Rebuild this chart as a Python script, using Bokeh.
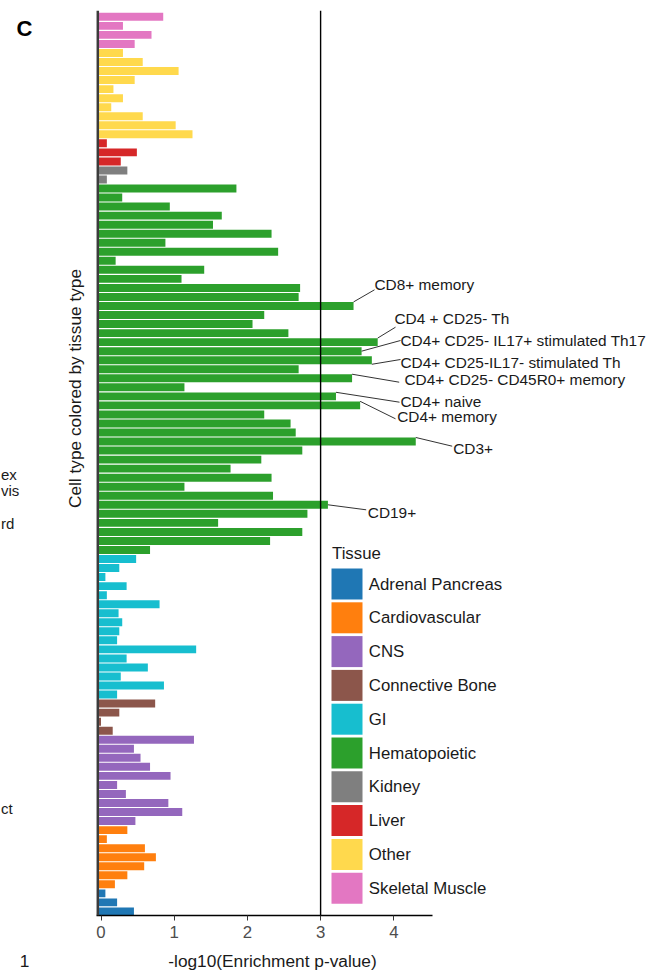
import numpy as np
from bokeh.plotting import figure
from bokeh.models import Range1d, FixedTicker, Span, Label, LinearAxis
from bokeh.core.properties import value
from bokeh.embed import file_html
from bokeh.resources import INLINE

# ---------------- data ----------------
tissues = ["Adrenal Pancreas", "Cardiovascular", "CNS", "Connective Bone", "GI",
           "Hematopoietic", "Kidney", "Liver", "Other", "Skeletal Muscle"]
colors = ["#1f77b4", "#ff7f0e", "#9467bd", "#8c564b", "#17becf",
          "#2ca02c", "#7f7f7f", "#d62728", "#ffd94d", "#e377c2"]

# -log10(enrichment p) per cell type, listed top-to-bottom as displayed
adrenal = [0.06, 0.22, 0.45]
cardio = [0.36, 0.08, 0.60, 0.75, 0.59, 0.36, 0.19]
cns = [1.27, 0.45, 0.54, 0.67, 0.95, 0.22, 0.34, 0.92, 1.11, 0.47]
connective = [0.74, 0.25, 0.0, 0.16]
gi = [0.48, 0.25, 0.06, 0.35, 0.08, 0.80, 0.24, 0.29, 0.25, 0.22, 1.30, 0.35,
      0.64, 0.27, 0.86, 0.22]
hemato = [1.85, 0.29, 0.94, 1.65, 1.53, 2.33, 0.88, 2.42, 0.20, 1.41, 1.10,
          2.72, 2.70, 3.45, 2.23, 2.07, 2.56, 3.78, 3.56, 3.70, 2.70, 3.43,
          1.14, 3.21, 3.54, 2.23, 2.59, 2.66, 4.30, 2.75, 2.19, 1.77, 2.33,
          1.14, 2.35, 3.10, 2.82, 1.60, 2.75, 2.31, 0.67]
kidney = [0.36, 0.08]
liver = [0.08, 0.49, 0.27]
other = [0.30, 0.57, 1.06, 0.46, 0.17, 0.30, 0.14, 0.57, 1.02, 1.25]
skeletal = [0.85, 0.30, 0.69, 0.46]
values_by_tissue = [adrenal, cardio, cns, connective, gi, hemato, kidney, liver, other, skeletal]

x_ticks = [0, 1, 2, 3, 4]
threshold = 3

x_title = "-log10(Enrichment p-value)"
y_title = "Cell type colored by tissue type"

# labelled hematopoietic cell types (index into hemato, top-to-bottom)
ann_text = ["CD8+ memory", "CD4 + CD25- Th", "CD4+ CD25-  IL17+ stimulated Th17",
            "CD4+ CD25-IL17- stimulated Th", "CD4+ CD25- CD45R0+ memory",
            "CD4+ naive", "CD4+ memory", "CD3+", "CD19+"]
ann_index = [13, 17, 18, 19, 21, 23, 24, 28, 35]

# fragments of the neighbouring panel visible at the left edge
frag_text = ["ex", "vis", "rd", "ct"]
frag_bottom = "1"

# ---------------- layout helpers (page pixels -> data) ----------------
W, H = 656, 974
PX0, SX = 100.5, 73.2            # page x of value 0, px per unit
FRAME_TOP_PX, FRAME_BOTTOM_PX = 10, 915
Y0, Y1 = 0.55, 100.7
SY = (FRAME_BOTTOM_PX - FRAME_TOP_PX) / (Y1 - Y0)


def X(px):
    return (px - PX0) / SX


def Y(py):
    return Y1 - (py - FRAME_TOP_PX) / SY


X_START, X_END = X(0), X(W)
X_AXIS = X(97.3)                 # where the y-axis line sits
AX_END = X(432)

FONT = "Liberation Sans"
INK = "#1a1a1a"

p = figure(width=W, height=H, output_backend="svg", toolbar_location=None,
           x_range=Range1d(X_START, X_END), y_range=Range1d(Y0, Y1),
           y_axis_location=None,
           min_border_left=0, min_border_right=0, min_border_top=FRAME_TOP_PX,
           min_border_bottom=H - FRAME_BOTTOM_PX)
p.title.visible = False
p.outline_line_color = None
p.grid.visible = False
p.background_fill_color = "white"
p.border_fill_color = "white"

# ---------------- bars ----------------
ypos = 1
bar_y = {}
for t, vals, col in zip(tissues, values_by_tissue, colors):
    ys = []
    for v in reversed(vals):
        ys.append(ypos)
        ypos += 1
    ys = ys[::-1]
    bar_y[t] = ys
    p.hbar(y=ys, left=X_AXIS, right=vals, height=0.88, fill_color=col,
           line_color=None)

# y axis line and threshold line
p.add_layout(Span(location=X_AXIS, dimension="height", line_color="#3c3c3c",
                  line_width=2.5))
p.add_layout(Span(location=threshold, dimension="height", line_color="black",
                  line_width=1.4))

# ---------------- x axis ----------------
xa = p.xaxis[0]
xa.ticker = FixedTicker(ticks=x_ticks)
xa.bounds = (X(96), AX_END)
xa.axis_line_color = "black"
xa.axis_line_width = 1.6
xa.major_tick_out = 5
xa.major_tick_in = 0
xa.minor_tick_out = 0
xa.minor_tick_in = 0
xa.major_tick_line_color = "#333333"
xa.major_label_text_font = FONT
xa.major_label_text_font_size = "16.8px"
xa.major_label_text_color = "#4d4d4d"
xa.major_label_standoff = 5

# second, line-less axis row carrying the x title (and the cut-off "1")
title_pos = [X(24), X(272)]
xa2 = LinearAxis(ticker=FixedTicker(ticks=title_pos),
                 major_label_overrides={title_pos[0]: frag_bottom,
                                        title_pos[1]: x_title})
xa2.axis_line_color = None
xa2.major_tick_out = 0
xa2.major_tick_in = 0
xa2.minor_tick_out = 0
xa2.minor_tick_in = 0
xa2.major_label_text_font = FONT
xa2.major_label_text_font_size = "17.3px"
xa2.major_label_text_color = INK
xa2.major_label_standoff = 10
p.add_layout(xa2, "below")

# ---------------- texts left of the panel ----------------
p.add_layout(Label(x=X(74), y=Y(388), text=y_title,
                   angle=np.pi / 2, text_align="center", text_baseline="middle",
                   text_font=FONT, text_font_size="17.3px", text_color=INK))
p.add_layout(Label(x=X(16), y=Y(28.4), text="C", text_align="left",
                   text_baseline="middle", text_font=FONT,
                   text_font_size="22px", text_font_style="bold",
                   text_color="black"))
for txt, py in zip(frag_text, [473.8, 489.8, 522.8, 807.8]):
    p.add_layout(Label(x=X(0.5), y=Y(py), text=txt, text_align="left",
                       text_baseline="middle", text_font=FONT,
                       text_font_size="15px", text_color=INK))

# ---------------- repel-style labels ----------------
hy = bar_y["Hematopoietic"]
text_px = [(374, 284), (394, 317.5), (400, 339.5), (400, 361.5), (404, 378.7),
           (400, 401.3), (396.7, 416), (452.7, 448), (367.3, 511.7)]
end_px = [(374, 289.3), (395, 326.7), (400, 340), (400, 359), (398.7, 381.7),
          (399, 401.7), (395, 418.3), (451.7, 445.7), (365.7, 509.3)]
start_dy = [0.45, 0.45, 0.0, -0.45, 0.45, 0.45, 0.45, 0.45, 0.0]

x0s = [hemato[i] for i in ann_index]
y0s = [hy[i] + d for i, d in zip(ann_index, start_dy)]
x1s = [X(e[0]) for e in end_px]
y1s = [Y(e[1]) for e in end_px]
p.segment(x0=x0s, y0=y0s, x1=x1s, y1=y1s, line_color="#333333", line_width=1)
p.text(x=[X(t[0]) for t in text_px], y=[Y(t[1]) for t in text_px], text=ann_text,
       text_font=value(FONT), text_font_size=value("15.4px"),
       text_baseline="middle", text_align="left", text_color=INK)

# ---------------- legend keys inside the panel ----------------
leg_py = [583.5 + i * 33.8 for i in range(len(tissues))]
p.rect(x=X(346.5), y=[Y(v) for v in leg_py], width=31 / SX, height=31 / SY,
       fill_color=colors, line_color=None)
p.text(x=X(368.3), y=[Y(v) for v in leg_py], text=tissues,
       text_font=value(FONT), text_font_size=value("16.8px"),
       text_baseline="middle", text_align="left", text_color=INK)
p.add_layout(Label(x=X(331.5), y=Y(552.5), text="Tissue", text_align="left",
                   text_baseline="middle", text_font=FONT,
                   text_font_size="16.8px", text_color=INK))

open("out.html", "w").write(file_html(p, INLINE))
